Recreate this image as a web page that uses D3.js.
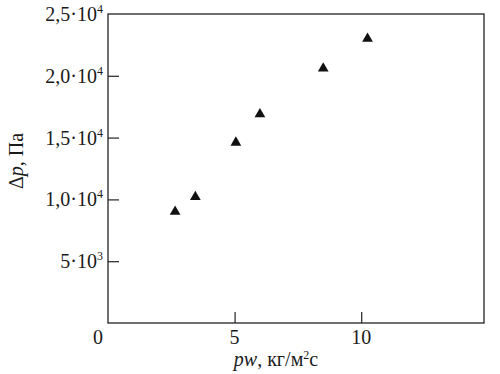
<!DOCTYPE html>
<html>
<head>
<meta charset="utf-8">
<script src="https://cdn.jsdelivr.net/npm/d3@7"></script>
<style>
  body { margin: 0; background: #fff; }
  text { font-family: "Liberation Serif", "Times New Roman", serif; fill: #1a1a1a; }
</style>
</head>
<body>
<script>
// data
var pw = [2.65, 3.45, 5.05, 6.0, 8.5, 10.25];
var dp = [9000, 10200, 14600, 16900, 20600, 23000];

// tick labels
var xTicks = [0, 5, 10];
var yTicks = [5000, 10000, 15000, 20000, 25000];
var yTickBase = ["5·10", "1,0·10", "1,5·10", "2,0·10", "2,5·10"];
var yTickExp = ["3", "4", "4", "4", "4"];

// svg container
var width = 500;
var height = 374;

var margin = { top: 14, right: 16, bottom: 51, left: 108 };
var chartWidth = width - margin.left - margin.right;
var chartHeight = height - margin.top - margin.bottom;

var svg = d3.select("body").append("svg")
    .attr("width", width)
    .attr("height", height);

var chartGroup = svg.append("g")
    .attr("transform", `translate(${margin.left}, ${margin.top})`);

var xScale = d3.scaleLinear().domain([0, 14.85]).range([0, chartWidth]);
var yScale = d3.scaleLinear().domain([0, 25000]).range([chartHeight, 0]);

// inward ticks
chartGroup.append("g")
    .attr("transform", `translate(0, ${chartHeight})`)
    .call(d3.axisBottom(xScale).tickValues(xTicks.slice(1)).tickSize(-11).tickFormat(""))
    .call(g => g.select(".domain").remove())
    .call(g => g.selectAll("line").attr("stroke", "#333").attr("stroke-width", 1.3));

chartGroup.append("g")
    .call(d3.axisLeft(yScale).tickValues(yTicks.slice(0, 4)).tickSize(-11).tickFormat(""))
    .call(g => g.select(".domain").remove())
    .call(g => g.selectAll("line").attr("stroke", "#333").attr("stroke-width", 1.3));

// frame
chartGroup.append("rect")
    .attr("width", chartWidth)
    .attr("height", chartHeight)
    .attr("fill", "none")
    .attr("stroke", "#222")
    .attr("stroke-width", 1.3);

// x tick labels
chartGroup.selectAll(".xlab")
    .data(xTicks)
    .enter()
    .append("text")
    .attr("x", d => xScale(d) + (d === 0 ? -10 : 0))
    .attr("y", chartHeight + 21)
    .attr("text-anchor", "middle")
    .style("font-size", "20px")
    .text(d => d);

// y tick labels with superscripts
var yLab = chartGroup.selectAll(".ylab")
    .data(yTicks)
    .enter()
    .append("text")
    .attr("x", -5)
    .attr("y", d => yScale(d) + 7)
    .attr("text-anchor", "end")
    .style("font-size", "20px");
yLab.append("tspan").text((d, i) => yTickBase[i]);
yLab.append("tspan")
    .attr("dy", -8)
    .style("font-size", "12px")
    .text((d, i) => yTickExp[i]);

// axis titles
var xTitle = svg.append("text")
    .attr("x", 276)
    .attr("y", 366)
    .attr("text-anchor", "middle")
    .style("font-size", "20px");
xTitle.append("tspan").style("font-style", "italic").text("pw");
xTitle.append("tspan").text(", кг/м");
xTitle.append("tspan").attr("dy", -7).style("font-size", "12px").text("2");
xTitle.append("tspan").attr("dy", 7).text("с");

var yTitle = svg.append("text")
    .attr("transform", "translate(23, 161) rotate(-90)")
    .attr("text-anchor", "middle")
    .style("font-size", "20px");
yTitle.append("tspan").text("Δ");
yTitle.append("tspan").style("font-style", "italic").text("p");
yTitle.append("tspan").text(", Па");

// markers
chartGroup.selectAll(".pt")
    .data(pw)
    .enter()
    .append("path")
    .attr("d", d3.symbol().type(d3.symbolTriangle).size(50))
    .attr("transform", (d, i) => `translate(${xScale(d)}, ${yScale(dp[i])})`)
    .attr("fill", "#111");
</script>
</body>
</html>
